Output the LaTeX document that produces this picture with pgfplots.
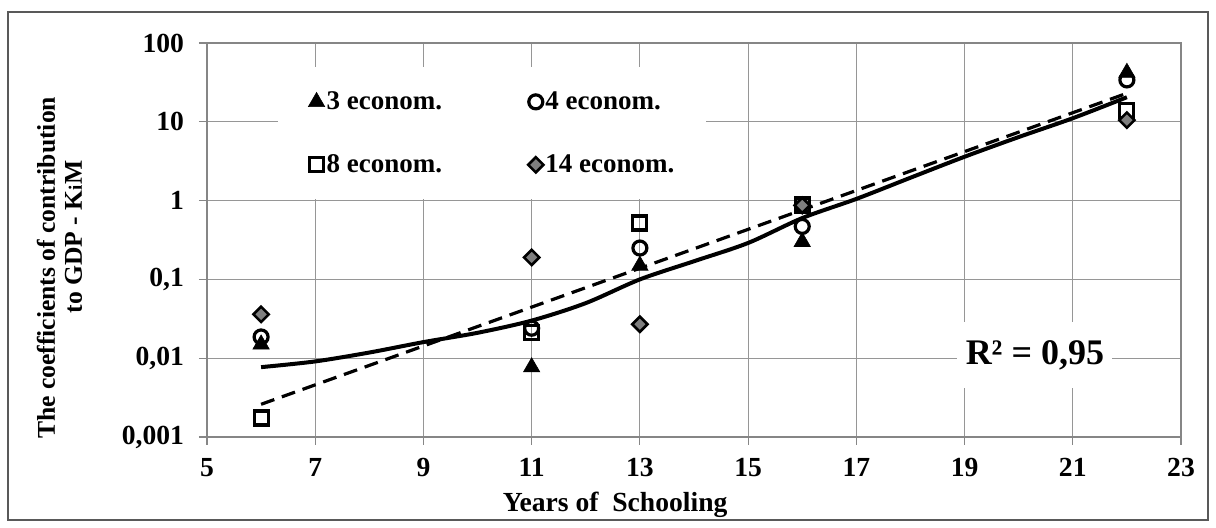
\documentclass[border=0pt]{standalone}
\usepackage{fontspec}
\setmainfont{Liberation Serif}
\usepackage{pgfplots}
\pgfplotsset{compat=1.18}
\definecolor{gridc}{HTML}{969696}
\definecolor{axisc}{HTML}{868686}
\definecolor{framec}{HTML}{595959}
\definecolor{diamc}{HTML}{7F7F7F}
\begin{document}
\begin{tikzpicture}
\useasboundingbox (-103.5pt,-45.5pt) rectangle (504.5pt,218.5pt);
\draw[framec, line width=1pt] (-99.5pt,-41.5pt) rectangle (500.5pt,212.5pt);
\begin{axis}[
  at={(0pt,0pt)}, anchor=south west,
  scale only axis, width=487pt, height=197pt,
  xmin=5, xmax=23, ymode=log, ymin=0.001, ymax=100,
  log basis y=10,
  xtick={5,7,9,11,13,15,17,19,21,23},
  xticklabels={5,7,9,11,13,15,17,19,21,23},
  ytick={0.001,0.01,0.1,1,10,100},
  yticklabels={{0,001},{0,01},{0,1},1,10,100},
  minor ytick={}, yminorticks=false,
  xtick pos=left, ytick pos=left,
  tick align=outside, major tick length=4pt,
  tick style={axisc, line width=0.6pt},
  axis line style={axisc, line width=0.6pt},
  xmajorgrids, ymajorgrids,
  grid style={gridc, line width=0.6pt},
  ticklabel style={font=\fontsize{13.8}{14}\selectfont\bfseries},
  yticklabel style={xshift=-4pt},
  xticklabel style={yshift=-3pt},
  xlabel={Years of\ \ Schooling},
  xlabel style={at={(axis description cs:0.419,0)}, anchor=center, yshift=-34pt, font=\fontsize{13.8}{14}\selectfont\bfseries},
  ylabel={The coefficients of contribution\\\hspace*{31pt}to GDP - K{\fontsize{9.5}{10}\selectfont i}M},
  ylabel style={at={(axis description cs:-0.1514,0.429)}, anchor=center, align=center, font=\fontsize{12.8}{13.5}\selectfont\bfseries},
  legend columns=2,
  legend cell align=left,
  legend image code/.code={\draw[#1] plot coordinates {(0pt,0pt)};},
  legend style={at={(0.0729,0.939)}, anchor=north west, draw=none, fill=white,
    font=\fontsize{13.5}{14}\selectfont\bfseries,
    nodes={inner sep=1pt},
    inner xsep=15pt, inner ysep=11pt, row sep=19pt,
    /tikz/every even column/.append style={column sep=42pt}},
]
% trend lines
\addplot[black, line width=2pt, forget plot, smooth] coordinates {
 (6,0.0077) (7,0.0091) (8,0.0118) (9,0.016) (10,0.021) (11,0.030) (12,0.050) (13,0.100)
 (14,0.17) (15,0.29) (16,0.60) (17,1.05) (18,1.95) (19,3.6) (20,6.4) (21,11.1) (22,20.5)};
\addplot[black, line width=1.6pt, dash pattern=on 7pt off 4pt, forget plot] coordinates {
 (6,0.0026) (22,23)};
% markers
\addplot[only marks, mark=triangle*, mark size=4.7pt, mark options={fill=black, draw=black, line width=0.3pt}] coordinates {
 (6,0.015) (11,0.0077) (13,0.15) (16,0.30) (22,42)};
\addlegendentry{3 econom.}
\addplot[only marks, mark=o, mark size=3.5pt, mark options={draw=black, line width=1.6pt}] coordinates {
 (6,0.0186) (11,0.024) (13,0.25) (16,0.47) (22,34)};
\addlegendentry{4 econom.}
\addplot[only marks, mark=square, mark size=3.5pt, mark options={draw=black, line width=1.6pt}] coordinates {
 (6,0.00174) (11,0.0214) (13,0.52) (16,0.88) (22,14)};
\addlegendentry{8 econom.}
\addplot[only marks, mark=square*, mark size=2.7pt, mark options={rotate=45, fill=diamc, draw=black, line width=1.3pt}] coordinates {
 (6,0.036) (11,0.19) (13,0.027) (16,0.87) (22,10.5)};
\addlegendentry{14 econom.}
\node[fill=white, inner sep=0pt, minimum width=77.5pt, minimum height=33pt, font=\fontsize{18}{20}\selectfont\bfseries]
  at (axis cs:20.3,0.011) {R² = 0,95};
\end{axis}
\end{tikzpicture}
\end{document}
